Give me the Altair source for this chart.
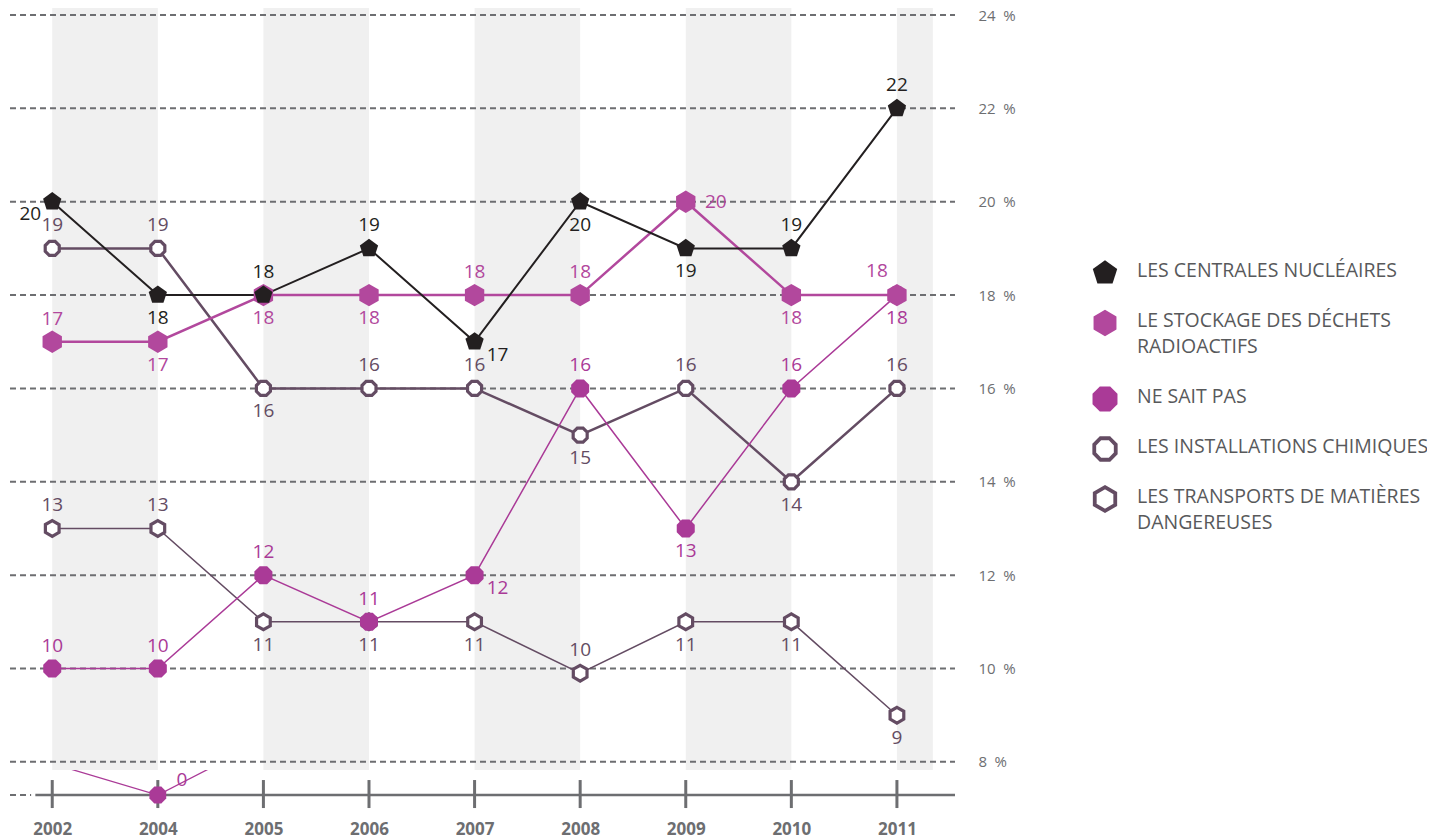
import json
import altair as alt
import pandas as pd

# ---------------- data ----------------
YEARS = ["2002", "2004", "2005", "2006", "2007", "2008", "2009", "2010", "2011"]
CENTRALES = [20, 18, 18, 19, 17, 20, 19, 19, 22]
STOCKAGE = [17, 17, 18, 18, 18, 18, 20, 18, 18]
NSP = [10, 10, 12, 11, 12, 16, 13, 16, 18]
CHIMIQUES = [19, 19, 16, 16, 16, 15, 16, 14, 16]
TRANSPORTS = [13, 13, 11, 11, 11, 9.9, 11, 11, 9]
ZERO_YEARS = ["2002", "2004", "2005"]
ZERO = [7.96, 0, 8.45]

# label placement codes: a=above, b=below, r=right, br/bl=below-right/left, al/ar=above-left/right
POS_CENTRALES = ["bl", "b", "a", "a", "br", "b", "b", "a", "a"]
POS_STOCKAGE = ["a", "b", "b", "b", "a", "a", "r", "b", "al"]
POS_NSP = ["a", "a", "a", "a", "br", "a", "b", "a", "b"]
POS_CHIMIQUES = ["a", "a", "b", "a", "a", "b", "a", "b", "a"]
POS_TRANSPORTS = ["a", "a", "b", "b", "b", "a", "b", "b", "b"]
POS_ZERO = ["", "ar", ""]

NAMES = ["LES CENTRALES NUCLÉAIRES",
         "LE STOCKAGE DES DÉCHETS\nRADIOACTIFS",
         "NE SAIT PAS",
         "LES INSTALLATIONS CHIMIQUES",
         "LES TRANSPORTS DE MATIÈRES\nDANGEREUSES"]
Y_TICKS = [8, 10, 12, 14, 16, 18, 20, 22, 24]

# ---------------- styling ----------------
BLACK = "#231f20"
MAG1 = "#b2489d"
MAG2 = "#aa3a97"
PURP = "#644c63"
GREY = "#6d6e71"
BAND = "#f0f0f0"

PENT = "M0,-1L0.951,-0.309L0.588,0.809L-0.588,0.809L-0.951,-0.309Z"
HEX = "M0,-1L0.866,-0.5L0.866,0.5L0,1L-0.866,0.5L-0.866,-0.5Z"
OCT = ("M0.383,-0.924L0.924,-0.383L0.924,0.383L0.383,0.924L-0.383,0.924"
       "L-0.924,0.383L-0.924,-0.383L-0.383,-0.924Z")

SERIES = [
    # name, values, positions, color, shape, point size, filled, line width, legend size
    (NAMES[4], TRANSPORTS, POS_TRANSPORTS, PURP, HEX, 250, False, 1.5, 560),
    (NAMES[3], CHIMIQUES, POS_CHIMIQUES, PURP, OCT, 230, False, 2.5, 540),
    (NAMES[2], NSP, POS_NSP, MAG2, OCT, 380, True, 1.5, 730),
    (NAMES[1], STOCKAGE, POS_STOCKAGE, MAG1, HEX, 500, True, 2.5, 700),
    (NAMES[0], CENTRALES, POS_CENTRALES, BLACK, PENT, 370, True, 2.0, 660),
]
LABEL_COLORS = {NAMES[0]: BLACK, NAMES[1]: MAG1, NAMES[2]: MAG2,
                NAMES[3]: PURP, NAMES[4]: PURP, "ZERO": MAG2}

OFFS = {"a": (0, -23), "b": (0, 23), "r": (30, 0), "br": (23, 13),
        "bl": (-22, 12), "al": (-20, -24), "ar": (24, -15)}

FONT = "Open Sans"
AXIS_BASE = 7.29
X_MIN, X_MAX = -0.4, 8.55
Y_MIN, Y_MAX = 6.969, 24.15
BAND_BOTTOM = 7.825
W, H = 945, 802

XS = alt.Scale(domain=[X_MIN, X_MAX], nice=False, zero=False)
YS = alt.Scale(domain=[Y_MIN, Y_MAX], nice=False, zero=False)

X_AXIS = alt.Axis(values=list(range(len(YEARS))), labelExpr=f"{json.dumps(YEARS)}[datum.value]",
                  domain=False, ticks=False, grid=False, labelPadding=11, labelFont=FONT,
                  labelFontSize=17, labelFontWeight="bold", labelColor=GREY, title=None,
                  labelFlush=False, labelOverlap=False)
Y_AXIS = alt.Axis(orient="right", values=Y_TICKS, labelExpr="datum.value + '\u2002%'",
                  domain=False, ticks=False, grid=False, labelPadding=23, labelFont=FONT,
                  labelFontSize=15, labelColor=GREY, title=None, labelFlush=False,
                  labelOverlap=False)


def xq(f):
    return alt.X(f, type="quantitative", scale=XS, axis=X_AXIS)


def yq(f):
    return alt.Y(f, type="quantitative", scale=YS, axis=Y_AXIS)


# ---------------- tables ----------------
rows = []
for name, vals, pos, *_ in SERIES:
    for i, (v, p) in enumerate(zip(vals, pos)):
        rows.append(dict(series=name, idx=i, v=v, yv=max(v, AXIS_BASE),
                         label=str(int(round(v))), pos=p))
for y, v, p in zip(ZERO_YEARS, ZERO, POS_ZERO):
    rows.append(dict(series="ZERO", idx=YEARS.index(y), v=v, yv=max(v, AXIS_BASE),
                     label=str(int(round(v))), pos=p))
df = pd.DataFrame(rows)
df_zero = df[df.series == "ZERO"]

bands = pd.DataFrame([dict(x0=i, x1=min(i + 1, len(YEARS) - 1 + 0.34), y0=BAND_BOTTOM, y1=Y_MAX)
                      for i in range(0, len(YEARS), 2)])
cover = pd.DataFrame([dict(x0=X_MIN, x1=X_MAX, y0=BAND_BOTTOM, y1=Y_MAX)])
grid = pd.DataFrame(dict(v=Y_TICKS, x0=X_MIN, x1=X_MAX))
ticks = pd.DataFrame(dict(idx=list(range(len(YEARS))), y0=7.011, y1=7.611))
axline = pd.DataFrame([dict(x0=-0.16, x1=X_MAX, v=AXIS_BASE)])
axdash = pd.DataFrame([dict(x0=X_MIN, x1=-0.2, v=AXIS_BASE)])

layers = []
# hidden series line (only its bottom part stays visible)
layers.append(alt.Chart(df_zero).mark_line(color=MAG2, strokeWidth=1.3)
              .encode(x=xq("idx"), y=yq("yv")))
layers.append(alt.Chart(cover).mark_rect(color="white")
              .encode(x=xq("x0"), x2="x1", y=yq("y0"), y2="y1"))
layers.append(alt.Chart(bands).mark_rect(color=BAND)
              .encode(x=xq("x0"), x2="x1", y=yq("y0"), y2="y1"))
layers.append(alt.Chart(grid).mark_rule(color=GREY, strokeWidth=2, strokeDash=[6, 4])
              .encode(x=xq("x0"), x2="x1", y=yq("v")))
layers.append(alt.Chart(axline).mark_rule(color=GREY, strokeWidth=2.5)
              .encode(x=xq("x0"), x2="x1", y=yq("v")))
layers.append(alt.Chart(axdash).mark_rule(color=GREY, strokeWidth=2, strokeDash=[6, 4])
              .encode(x=xq("x0"), x2="x1", y=yq("v")))
layers.append(alt.Chart(ticks).mark_rule(color=GREY, strokeWidth=3)
              .encode(x=xq("idx"), y=yq("y0"), y2="y1"))

for name, vals, pos, color, shape, size, filled, lw, lsize in SERIES:
    d = df[df.series == name]
    layers.append(alt.Chart(d).mark_line(color=color, strokeWidth=lw)
                  .encode(x=xq("idx"), y=yq("yv")))

for name, vals, pos, color, shape, size, filled, lw, lsize in SERIES:
    d = df[df.series == name]
    if filled:
        m = alt.Chart(d).mark_point(shape=shape, size=size, filled=True, fill=color,
                                    strokeWidth=0, opacity=1)
    else:
        m = alt.Chart(d).mark_point(shape=shape, size=size, filled=True, fill="white",
                                    stroke=color, strokeWidth=3.2, opacity=1)
    layers.append(m.encode(x=xq("idx"), y=yq("yv")))

# visible clamped point of the hidden series
layers.append(alt.Chart(df_zero).transform_filter(alt.datum.v < AXIS_BASE)
              .mark_point(shape=OCT, size=330, filled=True, fill=MAG2, strokeWidth=0, opacity=1)
              .encode(x=xq("idx"), y=yq("yv")))

color_scale = alt.Scale(domain=list(LABEL_COLORS.keys()), range=list(LABEL_COLORS.values()))
for code, (dx, dy) in OFFS.items():
    layers.append(alt.Chart(df).transform_filter(alt.datum.pos == code)
                  .mark_text(dx=dx, dy=dy, font=FONT, fontSize=19, align="center",
                             baseline="middle")
                  .encode(x=xq("idx"), y=yq("yv"), text="label:N",
                          color=alt.Color("series:N", scale=color_scale, legend=None)))

# ---------------- legend (drawn at the right) ----------------
LEG_X_SYM, LEG_X_TXT, LEG_Y0, LEG_STEP, LEG_LINE = 1095, 1127, 263, 50, 26
by_name = {s[0]: s for s in SERIES}
ly = LEG_Y0
one = pd.DataFrame({"a": [0]})
for nm in NAMES:
    name, vals, pos, color, shape, size, filled, lw, lsize = by_name[nm]
    if filled:
        sym = alt.Chart(one).mark_point(shape=shape, size=lsize, filled=True, fill=color,
                                        strokeWidth=0, opacity=1)
    else:
        sym = alt.Chart(one).mark_point(shape=shape, size=lsize, filled=True, fill="white",
                                        stroke=color, strokeWidth=3.8, opacity=1)
    layers.append(sym.encode(x=alt.value(LEG_X_SYM), y=alt.value(ly + 2)))
    lines = nm.split("\n")
    for j, line in enumerate(lines):
        layers.append(alt.Chart(one).mark_text(text=line, font=FONT, fontSize=19.5,
                                               color="#58595b", align="left",
                                               baseline="middle")
                      .encode(x=alt.value(LEG_X_TXT), y=alt.value(ly + j * LEG_LINE)))
    ly += LEG_STEP + LEG_LINE * (len(lines) - 1)

chart = (alt.layer(*layers)
         .properties(width=W, height=H, background="white",
                     autosize=alt.AutoSizeParams(type="none"),
                     padding={"left": 2, "top": 0, "right": 472, "bottom": 35})
         .configure_view(stroke=None))

chart.save("out.html", embed_options={"renderer": "svg", "actions": False})
